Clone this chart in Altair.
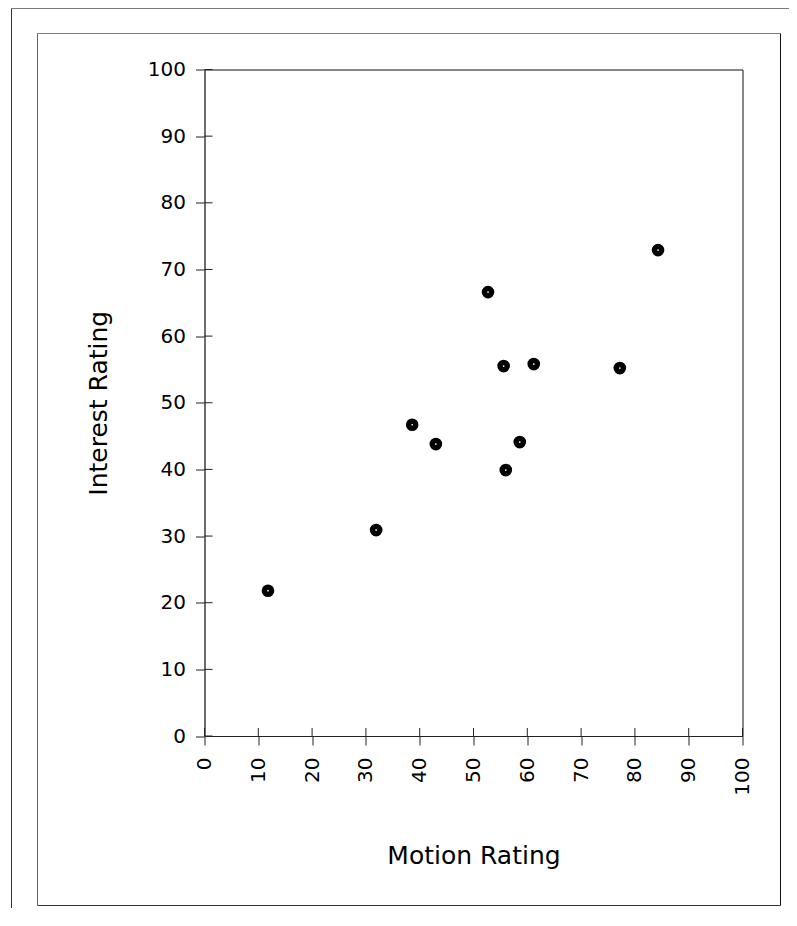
import altair as alt
import pandas as pd

# Data
motion = [11.8, 31.9, 38.6, 43.0, 52.7, 55.6, 56.0, 58.6, 61.2, 77.2, 84.3]
interest = [21.8, 30.9, 46.7, 43.8, 66.6, 55.5, 39.9, 44.1, 55.8, 55.2, 72.9]
tick_values = [0, 10, 20, 30, 40, 50, 60, 70, 80, 90, 100]

W, H = 538, 666.5
FONT = "DejaVu Sans"

df = pd.DataFrame({"motion": motion, "interest": interest})
ticks_df = pd.DataFrame({"motion": tick_values, "interest": tick_values})

xscale = alt.Scale(domain=[0, 100], nice=False, zero=False)
yscale = alt.Scale(domain=[0, 100], nice=False, zero=False)

x_axis = alt.Axis(values=tick_values, title="Motion Rating", labelAngle=270,
                  tickSize=9, labelPadding=12, titlePadding=48, grid=False,
                  labelFontSize=20, titleFontSize=25, labelFont=FONT, titleFont=FONT,
                  labelColor="black", titleColor="black", titleFontWeight="normal",
                  domainColor="#222", tickColor="#222", labelFlush=False)
y_axis = alt.Axis(values=tick_values, title="Interest Rating",
                  tickSize=9, labelPadding=10, titlePadding=36, grid=False,
                  labelFontSize=20, titleFontSize=25, labelFont=FONT, titleFont=FONT,
                  labelColor="black", titleColor="black", titleFontWeight="normal",
                  domainColor="#555", tickColor="#222", labelFlush=False)

points = alt.Chart(df).mark_circle(size=160, color="black", opacity=1).encode(
    x=alt.X("motion:Q", scale=xscale, axis=x_axis),
    y=alt.Y("interest:Q", scale=yscale, axis=y_axis),
)
dots = alt.Chart(df).mark_circle(size=3, color="white", opacity=1).encode(
    x=alt.X("motion:Q", scale=xscale),
    y=alt.Y("interest:Q", scale=yscale),
)

# inward halves of the crossing ticks
xticks_in = alt.Chart(ticks_df).mark_rule(color="#222", strokeWidth=1).encode(
    x=alt.X("motion:Q", scale=xscale),
    y=alt.value(H - 8), y2=alt.value(H),
)
yticks_in = alt.Chart(ticks_df).mark_rule(color="#222", strokeWidth=1).encode(
    y=alt.Y("interest:Q", scale=yscale),
    x=alt.value(0), x2=alt.value(8),
)

one = alt.Data(values=[{"k": 1}])

def line(x1, x2, y1, y2, color):
    return alt.Chart(one).mark_rule(color=color, strokeWidth=1).encode(
        x=alt.value(x1), x2=alt.value(x2), y=alt.value(y1), y2=alt.value(y2))

# decorative frames (pixel offsets relative to plot origin)
frames = [
    line(-193, 600, -61, -61, "#7a7a7a"),     # outer top
    line(-193, -193, -61, 860, "#333333"),    # outer left
    line(-167, 576, -36, -36, "#7a7a7a"),     # inner top
    line(-167, -167, -36, 836, "#666666"),    # inner left
    line(576, 576, -36, 836, "#111111"),      # inner right
    line(-167, 576, 836, 836, "#333333"),     # inner bottom
]

chart = alt.layer(points, dots, xticks_in, yticks_in, *frames).properties(
    width=W, height=H,
    autosize=alt.AutoSizeParams(type="none"),
    padding={"left": 196.5, "top": 61.5, "right": 46.5, "bottom": 172},
    background="white",
).configure_view(stroke="#111", strokeWidth=1)

chart.save("out.html", embed_options={"renderer": "svg", "actions": False})
